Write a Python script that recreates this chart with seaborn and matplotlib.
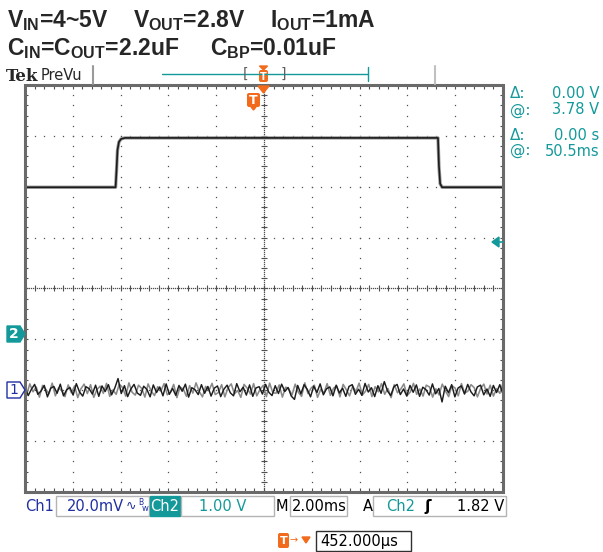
import numpy as np
import pandas as pd
import matplotlib
matplotlib.use("Agg")
import matplotlib.pyplot as plt
import seaborn as sns
from matplotlib.patches import Rectangle, Polygon, FancyBboxPatch
from matplotlib.collections import LineCollection

# ---------------- scope settings ----------------
TIME_PER_DIV_MS = 2.0
N_HDIV, N_VDIV = 10, 8
CH1_MV_PER_DIV = 20.0
CH2_V_PER_DIV = 1.0
CH1_OFFSET_DIV = -2.0
CH2_OFFSET_DIV = -0.89

# Ch2: line step response (time in ms, volts)
ch2_t = [0.0, 3.79, 3.83, 3.87, 3.93, 4.02, 4.18, 17.28, 17.32, 17.37, 17.45, 20.0]
ch2_v = [2.88, 2.88, 3.22, 3.61, 3.77, 3.83, 3.85, 3.85, 3.30, 2.95, 2.88, 2.88]

# Ch1: AC-coupled output ripple (mV), evenly sampled across the record
ch1_mv = [
    1.2, -2.1, 0.4, 2.3, -1.6, -0.3, 1.9, -2.6, 0.8, 1.5, -1.2, 2.4, -2.2, 0.2, 1.1, -1.9, 2.6, -0.7, -2.3, 1.4,
    0.6, -1.5, 2.0, -2.4, 1.7, -0.5, 2.2, -1.8, 0.9, 4.6, -1.3, 1.8, -2.5, 0.5, 2.3, -1.1, -2.0, 1.6, 0.3, -2.6,
    2.1, -0.9, 1.3, -2.2, 2.5, -1.6, 0.7, -2.0, 1.9, -0.4, 2.4, -2.7, 1.0, 0.2, -1.7, 2.2, -1.2, 1.5, -2.3, 0.8,
    1.7, -2.5, 0.4, 2.0, -1.0, -2.2, 2.6, -0.6, 1.2, -1.9, 2.1, -2.4, 0.9, 1.4, -1.5, 2.3, -0.8, -2.1, 1.8, -1.3,
    2.4, -0.5, 1.1, -2.3, -3.6, 1.9, -1.4, 2.2, 0.3, -2.6, 1.6, -0.9, 2.5, -1.8, 0.6, 1.3, -2.2, 2.0, -1.1, 0.8,
    -2.4, 1.5, 2.2, -1.6, 0.4, -2.0, 2.7, -0.7, 1.0, -2.5, 1.8, -1.2, 3.4, -0.3, -2.1, 1.4, 2.3, -1.7, 0.5, -2.3,
    1.9, -0.8, 2.1, -2.4, 1.2, 0.2, -1.9, 2.5, -1.4, 0.7, -4.6, 1.6, -1.0, 2.2, -2.6, 0.9, 1.7, -1.5, 2.3, -0.6,
    -2.2, 1.3, 2.0, -1.8, 0.5, -2.4, 1.9, -0.9, 2.2, -1.6,
]
# Ch1: persistence samples in between (mV), drawn lighter
ch1_persist_mv = [
    -1.8, 2.5, -0.6, 1.3, -2.7, 1.9, 0.4, -1.4, 2.8, -2.2, 0.9, -0.2, -2.5, 2.1, -1.0, 1.7, -2.9, 0.6, 2.4, -1.3,
    2.2, -2.8, 0.3, 1.6, -1.2, 2.7, -2.4, 0.1, -1.6, 2.4, 1.1, -2.3, 2.9, -0.8, -1.9, 2.0, 0.7, -2.7, 2.5, -0.4,
    -2.1, 1.4, -0.3, 2.6, -1.8, -0.7, 2.3, -2.9, 1.2, 0.5, -2.4, 1.8, -1.1, 2.9, -0.5, -2.6, 1.5, -0.2, 2.7, -1.7,
    -0.9, 2.2, -2.6, 1.0, 2.5, -1.4, -0.1, -2.8, 2.3, 0.8, -1.5, 2.6, -2.2, 0.3, 1.9, -2.5, 2.8, -0.9, -1.2, 2.1,
    -2.7, 1.2, 0.6, -1.9, 2.4, -0.8, -2.4, 2.9, -1.3, 0.9, 2.0, -2.8, 0.4, -1.1, 2.6, -2.0, 0.8, 1.7, -2.6, 2.3,
    0.2, -2.2, 1.6, -0.5, 2.8, -1.9, -0.4, 2.3, -2.5, 1.4, -0.6, 2.6, -1.6, 0.7, -2.9, 2.2, -1.0, 0.4, 2.5, -2.1,
    -0.7, 2.7, -1.6, 0.5, -2.3, 2.0, 1.3, -2.7, 0.6, -1.8, 2.4, -0.3, -2.5, 1.8, 0.9, -2.2, 2.6, -1.1, -0.4, 2.2,
    1.0, -2.6, 0.7, 2.4, -1.5, 2.0, -2.3, 0.6, -1.2, 2.7,
]

# readouts
title_line1 = [r"V$_{\rm IN}$=4~5V", r"V$_{\rm OUT}$=2.8V", r"I$_{\rm OUT}$=1mA"]
title_line2 = [r"C$_{\rm IN}$=C$_{\rm OUT}$=2.2uF", r"C$_{\rm BP}$=0.01uF"]
cursor_readout = [("Δ:", "0.00 V"), ("@:", "3.78 V"), ("Δ:", "0.00 s"), ("@:", "50.5ms")]
ch1_scale_label = "20.0mV"
ch2_scale_label = "1.00 V"
timebase_label = "2.00ms"
trigger_level_label = "1.82 V"
horiz_position_label = "452.000µs"

TEAL = "#14999a"
BLUE = "#2030a0"
ORANGE = "#f26b1d"
TRACE = "#1c1c1c"

sns.set_style("white")
plt.rcParams["font.family"] = ["DejaVu Sans"]
plt.rcParams["mathtext.fontset"] = "custom"
plt.rcParams["mathtext.rm"] = "Liberation Sans:bold"
plt.rcParams["mathtext.bf"] = "Liberation Sans:bold"

W, H = 603, 552
fig = plt.figure(figsize=(W / 100, H / 100), dpi=100)
fig.patch.set_facecolor("white")

# graticule area in pixels
GX0, GY0, GX1, GY1 = 25, 85, 503, 492
ax = fig.add_axes([GX0 / W, 1 - GY1 / H, (GX1 - GX0) / W, (GY1 - GY0) / H])
xmax = N_HDIV * TIME_PER_DIV_MS
ax.set_xlim(0, xmax)
ax.set_ylim(-N_VDIV / 2, N_VDIV / 2)
ax.set_axis_off()

px_x = xmax / (GX1 - GX0)          # ms per pixel
px_y = N_VDIV / (GY1 - GY0)        # div per pixel

# --- graticule dots on division lines ---
dot_kw = dict(linestyle="none", marker="s", ms=0.9, mew=0, color="#505050", zorder=1)
ys_minor = np.arange(-4, 4.001, 0.2)
xs_minor = np.arange(0, xmax + 0.001, TIME_PER_DIV_MS / 5)
for k in range(1, N_HDIV):
    if k == N_HDIV // 2:
        continue
    ax.plot(np.full_like(ys_minor, k * TIME_PER_DIV_MS), ys_minor, **dot_kw)
for k in range(-3, 4):
    if k == 0:
        continue
    ax.plot(xs_minor, np.full_like(xs_minor, k), **dot_kw)

# --- centre crosshair: dense dots + minor ticks ---
xc = xmax / 2
dense_y = np.arange(-4, 4.001, 2 * px_y)
dense_x = np.arange(0, xmax + 0.001, 2 * px_x)
ax.plot(np.full_like(dense_y, xc), dense_y, **dot_kw)
ax.plot(dense_x, np.zeros_like(dense_x), **dot_kw)
segs = [[(xc - 3 * px_x, y), (xc + 3 * px_x, y)] for y in ys_minor]
segs += [[(x, -3 * px_y), (x, 3 * px_y)] for x in xs_minor]
# border ticks pointing inward
segs += [[(x, 4), (x, 4 - 4 * px_y)] for x in xs_minor]
segs += [[(x, -4), (x, -4 + 4 * px_y)] for x in xs_minor]
segs += [[(0, y), (3 * px_x, y)] for y in ys_minor]
segs += [[(xmax, y), (xmax - 3 * px_x, y)] for y in ys_minor]
ax.add_collection(LineCollection(segs, colors="#505050", linewidths=0.8, zorder=1))

# --- traces ---
df2 = pd.DataFrame({"t_ms": ch2_t, "volts": ch2_v})
df2["div"] = df2["volts"] / CH2_V_PER_DIV + CH2_OFFSET_DIV
sns.lineplot(data=df2, x="t_ms", y="div", ax=ax, color="#9a9a9a", lw=2.4,
             estimator=None, sort=False, zorder=3)
sns.lineplot(data=df2, x="t_ms", y="div", ax=ax, color=TRACE, lw=1.2,
             estimator=None, sort=False, zorder=4)

dt = xmax / (len(ch1_mv) - 1)
df1 = pd.DataFrame({"t_ms": np.linspace(0, xmax, len(ch1_mv)), "mv": ch1_mv})
df1["div"] = df1["mv"] / CH1_MV_PER_DIV + CH1_OFFSET_DIV
df1p = pd.DataFrame({"t_ms": np.linspace(dt / 2, xmax, len(ch1_persist_mv)),
                     "mv": ch1_persist_mv})
df1p["div"] = df1p["mv"] / CH1_MV_PER_DIV + CH1_OFFSET_DIV
sns.lineplot(data=df1p, x="t_ms", y="div", ax=ax, color="#8a8a8a", lw=1.15,
             estimator=None, sort=False, zorder=3)
sns.lineplot(data=df1, x="t_ms", y="div", ax=ax, color=TRACE, lw=1.05,
             estimator=None, sort=False, zorder=4)
ax.set_xlabel("")
ax.set_ylabel("")

# ---------------- screen annotations (pixel coordinates) ----------------
ov = fig.add_axes([0, 0, 1, 1], zorder=5)
ov.set_xlim(0, W)
ov.set_ylim(H, 0)
ov.set_axis_off()
ov.patch.set_alpha(0)

# graticule frame
ov.add_patch(Rectangle((GX0, GY0), GX1 - GX0, GY1 - GY0, fill=False,
                       edgecolor="#6a6a6a", lw=2.2))

# header
xs1 = [7, 133, 270]
for x, s in zip(xs1, title_line1):
    ov.text(x, 27, s, fontsize=16.5, fontweight="bold", family="Liberation Sans",
            va="baseline", ha="left")
xs2 = [7, 210]
for x, s in zip(xs2, title_line2):
    ov.text(x, 55, s, fontsize=16.5, fontweight="bold", family="Liberation Sans",
            va="baseline", ha="left")

ov.text(6, 81, "Tek", fontsize=12, fontweight="bold", family="DejaVu Serif",
        va="baseline")
ov.text(41, 80, "PreVu", fontsize=10.5, va="baseline")
ov.plot([93, 93], [66, 84], color="#9a9a9a", lw=1.5)
ov.plot([435, 435], [66, 84], color="#c0c0c0", lw=1.5)
ov.plot([162, 368], [74, 74], color=TEAL, lw=1)
ov.plot([368, 368], [67, 81], color=TEAL, lw=1)
ov.text(245, 74, "[", fontsize=10, color="#606060", va="center", ha="center")
ov.text(283, 74, "]", fontsize=10, color="#606060", va="center", ha="center")


def t_icon(x, y, w, h, fs):
    ov.add_patch(FancyBboxPatch((x, y), w, h, boxstyle="round,pad=0,rounding_size=2",
                                facecolor=ORANGE, edgecolor="none"))
    ov.text(x + w / 2, y + h / 2 + 0.5, "T", color="white", fontsize=fs,
            fontweight="bold", ha="center", va="center")


t_icon(259, 70, 9, 12, 7)
ov.add_patch(Polygon([(259.5, 66), (267.5, 66), (263.5, 70)], color=ORANGE))
ov.add_patch(Polygon([(258, 86), (269, 86), (263.5, 93)], color=ORANGE))
t_icon(247, 93, 13, 14, 9)
ov.add_patch(Polygon([(251, 107), (256, 107), (253.5, 110)], color=ORANGE))

# cursor readouts
for i, (lab, val) in enumerate(cursor_readout):
    y = [94, 110, 135, 151][i]
    ov.text(510, y, lab, color=TEAL, fontsize=11, va="center", ha="left")
    ov.text(599, y, val, color=TEAL, fontsize=10.5, va="center", ha="right")

# trigger level arrow on the right edge
ov.add_patch(Polygon([(492, 242), (499, 237), (499, 247)], color=TEAL))
ov.plot([499, 503], [242, 242], color=TEAL, lw=1.2)

# channel ground markers
ov.add_patch(Polygon([(7, 326), (20, 326), (25, 334), (20, 342), (7, 342)],
                     facecolor=TEAL, edgecolor=TEAL))
ov.text(14, 334.5, "2", color="white", fontsize=10, fontweight="bold",
        ha="center", va="center")
ov.add_patch(Polygon([(7, 382), (20, 382), (25, 390), (20, 398), (7, 398)],
                     facecolor="white", edgecolor=BLUE, lw=1))
ov.text(14, 390.5, "1", color=BLUE, fontsize=10, ha="center", va="center")

# bottom status bar
BY, BH = 496, 20
yc = BY + BH / 2 + 0.5
box_kw = dict(fill=False, edgecolor="#b4b4b4", lw=1)
ov.text(25, yc, "Ch1", color=BLUE, fontsize=10.5, va="center")
ov.add_patch(Rectangle((56, BY), 93, BH, **box_kw))
ov.text(67, yc, ch1_scale_label, color=BLUE, fontsize=10.5, va="center")
ov.text(126, yc, "∿", color=BLUE, fontsize=9, va="center")
ov.text(138, yc - 4, "B", color=BLUE, fontsize=5.5, va="center")
ov.text(142, yc + 2, "w", color=BLUE, fontsize=6, va="center")
ov.add_patch(Rectangle((150, BY), 30, BH, facecolor=TEAL, edgecolor=TEAL))
ov.text(165, yc, "Ch2", color="white", fontsize=10.5, va="center", ha="center")
ov.add_patch(Rectangle((181, BY), 93, BH, **box_kw))
ov.text(199, yc, ch2_scale_label, color=TEAL, fontsize=10.5, va="center")
ov.text(276, yc, "M", color="black", fontsize=10.5, va="center")
ov.add_patch(Rectangle((290, BY), 57, BH, **box_kw))
ov.text(292, yc, timebase_label, color="black", fontsize=10.5, va="center")
ov.text(363, yc, "A", color="black", fontsize=10.5, va="center")
ov.add_patch(Rectangle((373, BY), 133, BH, **box_kw))
ov.text(386, yc, "Ch2", color=TEAL, fontsize=10.5, va="center")
ov.text(428, yc, "ʃ", color="black", fontsize=11, fontweight="bold",
        va="center", ha="center")
ov.text(504, yc, trigger_level_label, color="black", fontsize=10.5,
        va="center", ha="right")

# horizontal position readout
t_icon(278, 533, 11, 15, 8)
ov.text(290, 540, "→", color=ORANGE, fontsize=7, va="center")
ov.add_patch(Polygon([(302, 537), (310, 537), (306, 543)], color=ORANGE))
ov.add_patch(Rectangle((316, 531), 95, 20, fill=False, edgecolor="#303030", lw=1))
ov.text(320, 541.5, horiz_position_label, color="black", fontsize=10.5, va="center")

fig.savefig("out.png", dpi=100, facecolor="white")
